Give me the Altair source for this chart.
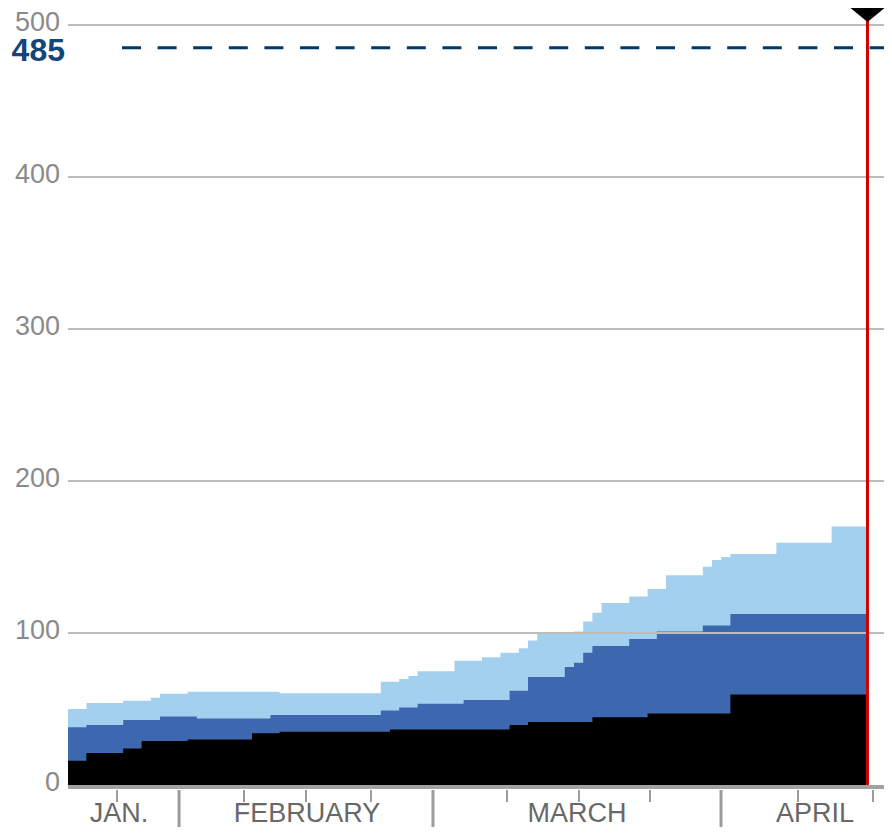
import altair as alt
import pandas as pd

# ---- data (x = days after 20 January, y = cumulative level) ----
black_day = [0, 2, 6, 8, 13, 20, 23, 35, 48, 50, 57, 63, 72, 86.9]
black_val = [16, 21, 24, 29, 30, 34, 35, 36.5, 39.5, 41.5, 44.5, 47, 59.5, 59.5]

mid_day = [0, 2, 6, 10, 14, 22, 34, 36, 38, 43, 48, 50, 54, 55, 56, 57, 61, 64, 69, 72, 86.9]
mid_val = [38, 39.5, 42.7, 45, 43.8, 46, 49, 51, 53.5, 56, 62, 71, 77.6, 80.5, 87, 91.5, 96, 101, 105, 112.5, 112.5]

light_day = [0, 2, 6, 9, 10, 13, 23, 34, 36, 37, 38, 42, 45, 47, 49, 50, 51, 55, 56, 57,
             58, 61, 63, 65, 69, 70, 71, 72, 77, 83, 86.9]
light_val = [50, 54, 55.5, 57.4, 60, 61.4, 60.3, 68, 69.7, 71.7, 74.8, 81.7, 84, 87, 90, 95, 100, 101, 107.5, 113.4,
             119.7, 124, 129, 138, 143.6, 148, 150, 152, 159.4, 170, 170]

grid_vals = [100, 200, 300, 400, 500]
y_labels = [0, 100, 200, 300, 400, 500]
target_val = [485]
today_day = [86.9]

minor_ticks = [5.33, 19.13, 25.87, 32.93, 47.72, 55.54, 63.26, 79.35, 87.5]
month_bounds = [12.07, 39.67, 70.98]
month_names = ["JAN.", "FEBRUARY", "MARCH", "APRIL"]
month_pos = [5.54, 25.98, 55.33, 81.2]

# ---- layout ----
W, H = 816, 760
PX_PER_DAY = 9.2
FONT = "Liberation Sans"
xs = alt.Scale(domain=[0, W / PX_PER_DAY], nice=False, zero=False)
ys = alt.Scale(domain=[0, 500], nice=False)


def step_area(days, vals, color):
    df = pd.DataFrame({"day": days, "v": vals})
    return alt.Chart(df).mark_area(interpolate="step-after", color=color, opacity=1).encode(
        x=alt.X("day:Q", scale=xs, axis=None),
        y=alt.Y("v:Q", scale=ys, axis=None, stack=None),
    )


light = step_area(light_day, light_val, "#a4d0f0")
mid = step_area(mid_day, mid_val, "#3d68b0")
black = step_area(black_day, black_val, "#000000")

grid = alt.Chart(pd.DataFrame({"v": grid_vals})).mark_rule(color="#bcbcbc", strokeWidth=2).encode(
    y=alt.Y("v:Q", scale=ys, axis=None), x=alt.value(0), x2=alt.value(W)
)

baseline = alt.Chart(pd.DataFrame({"v": [0]})).mark_rule(color="#a2a2a2", strokeWidth=4, yOffset=2).encode(
    y=alt.Y("v:Q", scale=ys, axis=None), x=alt.value(0), x2=alt.value(W)
)

ylab_df = pd.DataFrame({"v": y_labels, "label": [str(v) for v in y_labels]})
ylab = alt.Chart(ylab_df).mark_text(
    align="right", baseline="middle", dy=-2, fontSize=27, font=FONT, color="#8a8a8a"
).encode(y=alt.Y("v:Q", scale=ys, axis=None), x=alt.value(-8), text="label:N")

target_df = pd.DataFrame({"v": target_val, "label": [str(v) for v in target_val]})
target_line = alt.Chart(target_df).mark_rule(
    color="#003868", strokeWidth=3, strokeDash=[19, 16.6]
).encode(y=alt.Y("v:Q", scale=ys, axis=None), x=alt.value(54), x2=alt.value(W))
target_text = alt.Chart(target_df).mark_text(
    align="right", baseline="middle", dy=3, fontSize=32, fontWeight="bold", font=FONT, color="#13457a"
).encode(y=alt.Y("v:Q", scale=ys, axis=None), x=alt.value(-3), text="label:N")

today_df = pd.DataFrame({"day": today_day})
today_line = alt.Chart(today_df).mark_rule(color="#d40000", strokeWidth=3).encode(
    x=alt.X("day:Q", scale=xs, axis=None), y=alt.value(H), y2=alt.value(-5)
)
today_marker = alt.Chart(today_df).mark_point(
    shape="M-1,-0.41L1,-0.41L0,0.41Z", size=1156, filled=True, color="#000000", opacity=1
).encode(x=alt.X("day:Q", scale=xs, axis=None), y=alt.value(-10))

minor = alt.Chart(pd.DataFrame({"day": minor_ticks})).mark_rule(color="#9c9c9c", strokeWidth=2).encode(
    x=alt.X("day:Q", scale=xs, axis=None), y=alt.value(H + 5), y2=alt.value(H + 17)
)
major = alt.Chart(pd.DataFrame({"day": month_bounds})).mark_rule(color="#9c9c9c", strokeWidth=3).encode(
    x=alt.X("day:Q", scale=xs, axis=None), y=alt.value(H + 5), y2=alt.value(H + 42)
)
months = alt.Chart(pd.DataFrame({"day": month_pos, "name": month_names})).mark_text(
    align="center", baseline="alphabetic", fontSize=27, font=FONT, color="#686868"
).encode(x=alt.X("day:Q", scale=xs, axis=None), y=alt.value(H + 37), text="name:N")

chart = alt.layer(
    light, mid, black, grid, baseline, ylab, target_line, target_text,
    today_line, today_marker, minor, major, months
).properties(
    width=W, height=H,
    autosize=alt.AutoSizeParams(type="none"),
    padding={"left": 60, "top": 17, "right": 0, "bottom": 42},
    background="#ffffff",
).configure_view(stroke=None)

chart.save("out.html", embed_options={"renderer": "svg", "actions": False})
